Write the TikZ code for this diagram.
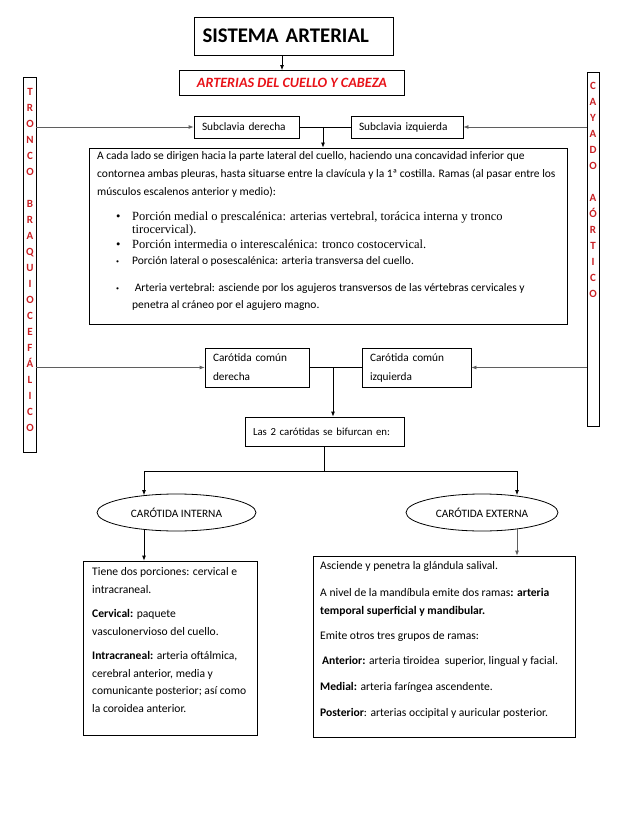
\documentclass[tikz,border=0pt]{standalone}
\usepackage{fontspec}
\setmainfont{Carlito}
\newfontfamily\tnr{Liberation Serif}
\usetikzlibrary{shapes.geometric,arrows.meta,positioning}
\definecolor{rojo}{RGB}{232,18,24}
\definecolor{granate}{RGB}{200,32,36}
\definecolor{gris}{RGB}{95,95,95}
\newcommand{\vin}{\makebox[16pt][l]{\textbullet}}
\newcommand{\vpt}{\makebox[16pt][l]{\raisebox{1pt}{\fontsize{6}{6}\selectfont\textbullet}}}

\begin{document}
\begin{tikzpicture}[x=1pt,y=-1pt,
    every node/.style={font=\fontsize{11.3}{13}\selectfont},
    caja/.style={rectangle, draw, line width=0.8pt, inner sep=0pt},
    barra/.style={rectangle, draw, line width=0.8pt, minimum width=13pt, inner sep=0pt},
    letras/.style={inner sep=0pt, align=center, text=granate, font=\fontsize{11}{16}\selectfont\bfseries},
    elipse/.style={ellipse, draw, line width=0.8pt, minimum height=37pt, inner sep=0pt},
    texto/.style={inner sep=0pt, anchor=north west, align=left},
    arr/.style={-{Latex[length=5pt,width=4pt]}, line width=0.8pt},
    arrg/.style={arr, draw=gris},
    linea/.style={line width=0.8pt}
]
    \useasboundingbox (0,0) rectangle (638,826);

    % Titles
    \node[caja, minimum width=199pt, minimum height=38pt, text width=183pt, align=left,
          font=\fontsize{20.8}{24}\selectfont\bfseries] (sist) at (294,36) {SISTEMA ARTERIAL};
    \node[caja, minimum width=225pt, minimum height=25pt, text=rojo,
          font=\fontsize{14.2}{16}\selectfont\bfseries\itshape] (cuello) at (292,83) {ARTERIAS DEL CUELLO Y CABEZA};

    % Side bars
    \node[barra, minimum height=375pt] (tronco) at (29.5,264.5) {};
    \node[letras, anchor=north] (ltronco) at (30,88) {T\\R\\O\\N\\C\\O\\[16pt]B\\R\\A\\Q\\U\\I\\O\\C\\E\\F\\Á\\L\\I\\C\\O};
    \node[barra, minimum width=12pt, minimum height=354pt] (cayado) at (593,249) {};
    \node[letras, anchor=north] (lcayado) at (593,82) {C\\A\\Y\\A\\D\\O\\[16pt]A\\Ó\\R\\T\\I\\C\\O};

    % Subclavias
    \node[caja, minimum width=105pt, minimum height=22pt, text width=89pt, align=left] (subder) at (246.5,127) {Subclavia derecha};
    \node[caja, minimum width=112pt, minimum height=22pt, text width=96pt, align=left] (subizq) at (407,127) {Subclavia izquierda};

    % Ramas de la subclavia
    \node[caja, minimum width=478pt, minimum height=176pt] (ramas) at (328,236) {};
    \node[texto, font=\fontsize{11.5}{17.8}\selectfont] (parr) at (97,151.5) {A cada lado se dirigen hacia la parte lateral del cuello, haciendo una concavidad inferior que\\contornea ambas pleuras, hasta situarse entre la clavícula y la 1ª costilla. Ramas (al pasar entre los\\músculos escalenos anterior y medio):};
    \node[texto, font=\tnr\fontsize{12.5}{13.5}\selectfont] (por1) at (116,211.5) {\vin Porción medial o prescalénica: arterias vertebral, torácica interna y tronco\\\hspace*{16pt}tirocervical).};
    \node[texto, font=\tnr\fontsize{12.5}{13.5}\selectfont] (por2) at (116,239.5) {\vin Porción intermedia o interescalénica: tronco costocervical.};
    \node[texto, font=\fontsize{11.5}{17}\selectfont] (por3) at (116,256.5) {\vpt Porción lateral o posescalénica: arteria transversa del cuello.};
    \node[texto, font=\fontsize{11.5}{17}\selectfont] (por4) at (116,283.5) {\vpt\ Arteria vertebral: asciende por los agujeros transversos de las vértebras cervicales y\\\hspace*{16pt}penetra al cráneo por el agujero magno.};

    % Carotidas comunes
    \node[caja, minimum width=104pt, minimum height=39pt, text width=88pt, align=left,
          font=\fontsize{11.3}{19}\selectfont] (cader) at (257,367.5) {Carótida común\\derecha};
    \node[caja, minimum width=109pt, minimum height=39pt, text width=93pt, align=left,
          font=\fontsize{11.3}{19}\selectfont] (caizq) at (416.5,367.5) {Carótida común\\izquierda};
    \node[caja, minimum width=159pt, minimum height=29pt, text width=143pt, align=left,
          font=\fontsize{10.8}{13}\selectfont] (las) at (324.5,431.5) {Las 2 carótidas se bifurcan en:};

    % Carotidas interna y externa
    \node[elipse, minimum width=159pt] (interna) at (176.5,512.5) {CARÓTIDA INTERNA};
    \node[elipse, minimum width=152pt] (externa) at (482,512.5) {CARÓTIDA EXTERNA};

    \node[caja, minimum width=174pt, minimum height=174pt] (cint) at (170,648) {};
    \node[texto, font=\fontsize{11.6}{17.5}\selectfont] (tint) at (92,567.5) {Tiene dos porciones: cervical e\\intracraneal.\\[7pt]\textbf{Cervical:} paquete\\vasculonervioso del cuello.\\[7pt]\textbf{Intracraneal:} arteria oftálmica,\\cerebral anterior, media y\\comunicante posterior; así como\\la coroidea anterior.};

    \node[caja, minimum width=262pt, minimum height=181pt] (cext) at (444,646.5) {};
    \node[texto, font=\fontsize{11.6}{18}\selectfont] (text) at (320,561.5) {Asciende y penetra la glándula salival.\\[9pt]A nivel de la mandíbula emite dos ramas\textbf{: arteria}\\\textbf{temporal superficial y mandibular.}\\[7pt]Emite otros tres grupos de ramas:\\[7pt]\,\textbf{Anterior:} arteria tiroidea\ \ superior, lingual y facial.\\[8pt]\textbf{Medial:} arteria faríngea ascendente.\\[8pt]\textbf{Posterior}: arterias occipital y auricular posterior.};

    % Connections
    \draw[arr] ([xshift=-12pt]sist.south) -- ([xshift=-12pt]sist.south |- cuello.north);

    \draw[arrg] (tronco.east |- subder.west) -- (subder.west);
    \draw[arrg] (cayado.west |- subizq.east) -- (subizq.east);
    \draw[linea] (subder.east) -- (subizq.west);
    \coordinate (jsub) at (323,127);
    \draw[arr] (jsub) -- (jsub |- ramas.north);

    \draw[arrg] (tronco.east |- cader.west) -- (cader.west);
    \draw[arrg] (cayado.west |- caizq.east) -- (caizq.east);
    \draw[linea] (cader.east) -- (caizq.west);
    \coordinate (jcar) at (333,367.5);
    \draw[arr] (jcar) -- (jcar |- las.north);

    \coordinate (ramai) at (144,471);
    \coordinate (ramae) at (517,471);
    \draw[linea] (las.south) -- (las.south |- ramai);
    \draw[linea] (ramai) -- (ramae);
    \draw[arr, shorten >=-1.5pt] (ramai) -- (ramai |- interna.north);
    \draw[arr, shorten >=-1.5pt] (ramae) -- (ramae |- externa.north);
    \draw[arr, shorten <=-2pt] (ramai |- interna.south) -- (ramai |- cint.north);
    \draw[arr, draw=gris, shorten <=-2pt] (ramae |- externa.south) -- (ramae |- cext.north);
\end{tikzpicture}
\end{document}
